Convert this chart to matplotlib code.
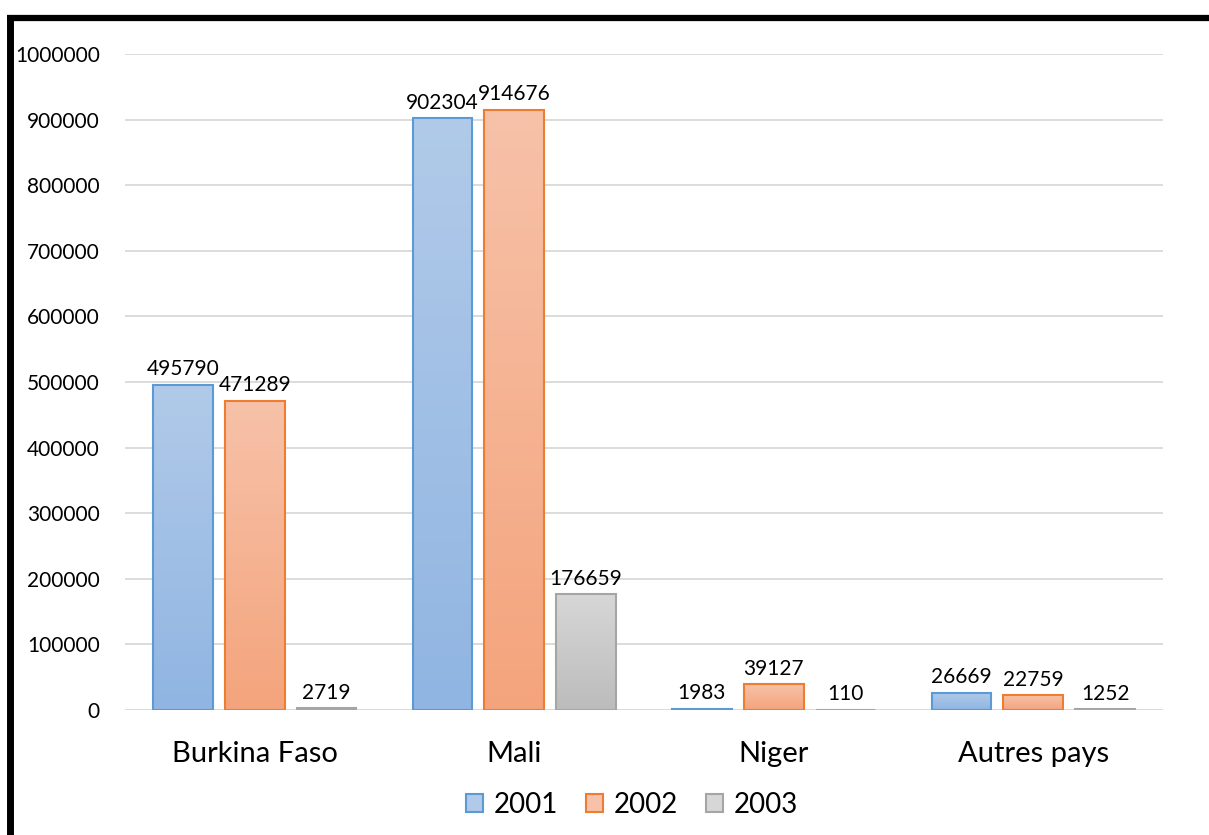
import numpy as np
import matplotlib
matplotlib.use("Agg")
import matplotlib.pyplot as plt
from matplotlib.colors import LinearSegmentedColormap
from matplotlib.lines import Line2D
from matplotlib.patches import Rectangle

plt.rcParams["font.family"] = ["Lato", "DejaVu Sans"]

# --- data -------------------------------------------------------------
categories = ["Burkina Faso", "Mali", "Niger", "Autres pays"]
years = ["2001", "2002", "2003"]
values_2001 = [495790, 902304, 1983, 26669]
values_2002 = [471289, 914676, 39127, 22759]
values_2003 = [2719, 176659, 110, 1252]
yticks = [0, 100000, 200000, 300000, 400000, 500000, 600000, 700000,
          800000, 900000, 1000000]

series = [values_2001, values_2002, values_2003]
# (top colour, bottom colour, edge colour) per year
styles = [
    ("#b1cae9", "#90b5e2", "#5b9bd5"),
    ("#f7c2a9", "#f4a47c", "#ed7d31"),
    ("#d7d7d7", "#bcbcbc", "#a5a5a5"),
]

fig = plt.figure(figsize=(12.09, 8.35), dpi=100)
ax = fig.add_axes([125 / 1209, 125 / 835, 1038 / 1209, 656 / 835])

bar_w = 0.23
step = 0.277
x = np.arange(len(categories))

for i, (vals, (top, bot, edge)) in enumerate(zip(series, styles)):
    cmap = LinearSegmentedColormap.from_list(f"g{i}", [bot, top])
    grad = np.linspace(0, 1, 256).reshape(-1, 1)
    for xi, v in zip(x, vals):
        x0 = xi + (i - 1) * step - bar_w / 2
        ax.imshow(grad, cmap=cmap, origin="lower", aspect="auto",
                  extent=(x0, x0 + bar_w, 0, v), zorder=2)
        ax.add_patch(Rectangle((x0, 0), bar_w, v, facecolor="none",
                               edgecolor=edge, linewidth=1.5, zorder=3))
        ax.annotate(f"{v}", (x0 + bar_w / 2, v), xytext=(0, 4),
                    textcoords="offset points", ha="center", va="bottom",
                    fontsize=15, color="black", zorder=4)

ax.set_xlim(-0.5, len(categories) - 0.5)
ax.set_ylim(0, 1000000)
ax.set_yticks(yticks)
ax.set_yticklabels([str(t) for t in yticks], fontsize=15)
ax.set_xticks(x)
ax.set_xticklabels(categories, fontsize=21)
ax.tick_params(axis="y", length=0, pad=18)
ax.tick_params(axis="x", length=0, pad=22)
ax.grid(axis="y", color="#d9d9d9", linewidth=1.3, zorder=0)
ax.set_axisbelow(True)
for s in ax.spines.values():
    s.set_visible(False)

handles = [Rectangle((0, 0), 1, 1, facecolor=top, edgecolor=edge, linewidth=1.5)
           for top, bot, edge in styles]
fig.legend(handles, years, loc="center", bbox_to_anchor=(632 / 1209, 30 / 835),
           ncol=3, frameon=False, fontsize=20, handlelength=0.6,
           handleheight=0.6, handletextpad=0.4, columnspacing=1.0)

# thick black frame on top and left edges
fig.add_artist(Line2D([7 / 1209, 1], [1 - 18 / 835, 1 - 18 / 835],
                      color="black", linewidth=4.5, solid_capstyle="butt"))
fig.add_artist(Line2D([10 / 1209, 10 / 1209], [0, 1 - 15 / 835],
                      color="black", linewidth=5, solid_capstyle="butt"))

fig.savefig("out.png", dpi=100)
